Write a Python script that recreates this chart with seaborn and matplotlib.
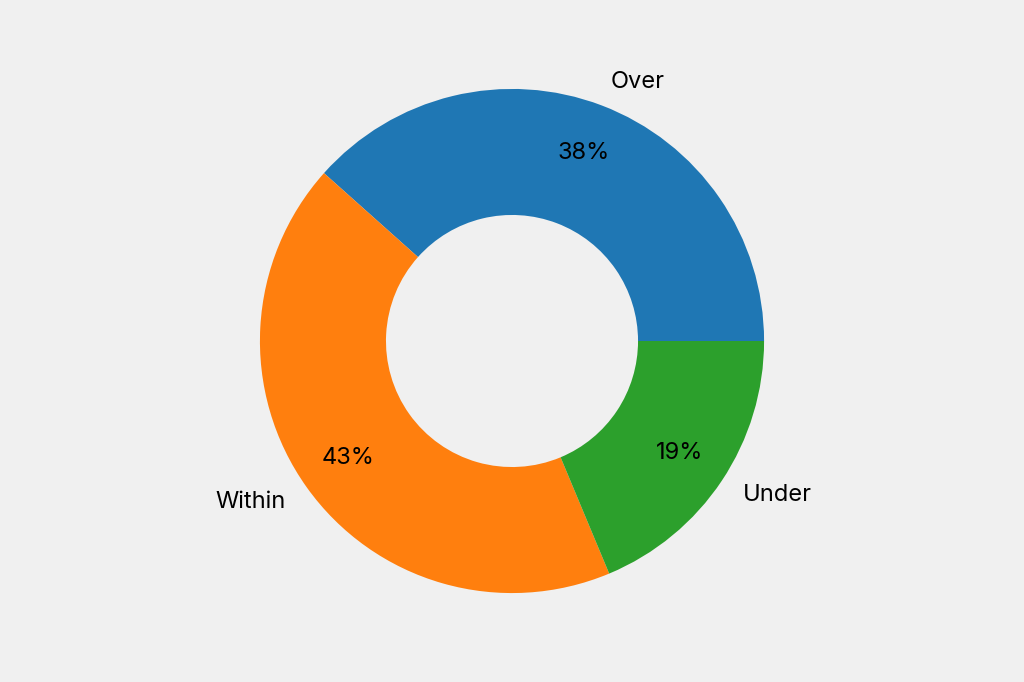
import matplotlib
matplotlib.use("Agg")
import matplotlib.pyplot as plt
import seaborn as sns

labels = ["Over", "Within", "Under"]
shares = [38.4, 42.9, 18.7]

sns.set_theme(style="white")
plt.rcParams["font.family"] = ["Inter", "DejaVu Sans"]

colors = sns.color_palette("tab10", 3)

fig = plt.figure(figsize=(10.24, 6.82), dpi=100, facecolor="#f0f0f0")
ax = fig.add_axes([0, 0.038, 1, 0.924])
ax.set_facecolor("#f0f0f0")

wedges, texts, autotexts = ax.pie(
    shares, labels=labels, colors=colors, startangle=0, counterclock=True,
    autopct="%1.0f%%", pctdistance=0.8, labeldistance=1.1,
    wedgeprops=dict(width=0.5, edgecolor="none"),
    textprops=dict(fontsize=17, color="black"),
)
ax.set_aspect("equal")

fig.savefig("out.png", dpi=100, facecolor="#f0f0f0")
